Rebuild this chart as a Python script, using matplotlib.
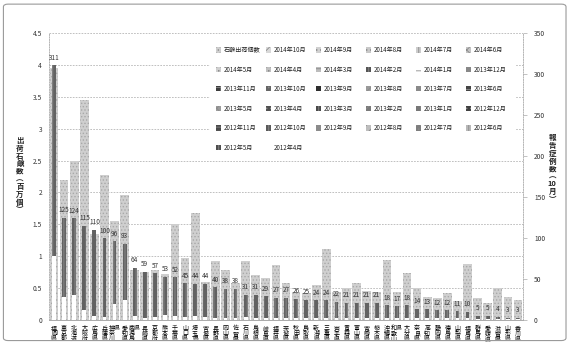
import numpy as np
import matplotlib.pyplot as plt
from matplotlib.patches import FancyBboxPatch, Rectangle

plt.rcParams['font.family'] = ['Noto Sans CJK JP', 'DejaVu Sans']
plt.rcParams['hatch.linewidth'] = 0.6

# prefectures, left to right
prefs = ['福岡県', '東京都', '北海道', '大阪府', '広島県', '兵庫県', '神奈川県', '愛知県',
         '鹿児島県', '長崎県', '京都府', '熊本県', '千葉県', '山口県', '埼玉県', '宮城県',
         '長野県', '岡山県', '佐賀県', '石川県', '島根県', '岐阜県', '福井県', '茨城県',
         '秋田県', '鳥取県', '新潟県', '三重県', '岩手県', '青森県', '富山県', '宮崎県',
         '栃木県', '沖縄県', '和歌山県', '大分県', '奈良県', '高知県', '静岡県', '徳島県',
         '山梨県', '福島県', '群馬県', '愛媛県', '滋賀県', '山形県', '香川県']

# soap shipments (millions)
shipments = [3.95, 2.20, 2.50, 3.45, 1.35, 2.27, 1.55, 1.96, 0.78, 0.75, 0.78, 0.72,
             1.50, 0.97, 1.68, 0.60, 0.92, 0.78, 0.58, 0.93, 0.70, 0.66, 0.86, 0.58,
             0.44, 0.42, 0.55, 1.11, 0.44, 0.50, 0.58, 0.45, 0.44, 0.94, 0.44, 0.73,
             0.50, 0.36, 0.35, 0.43, 0.30, 0.88, 0.35, 0.27, 0.50, 0.36, 0.32]

# reported cases as of October 2014
cases = [311, 125, 124, 115, 110, 100, 96, 93, 64, 59, 57, 53, 52, 45, 44, 44,
         40, 38, 38, 31, 31, 29, 27, 27, 26, 25, 24, 24, 22, 21, 21, 21, 21, 18,
         17, 18, 14, 13, 12, 12, 11, 10, 5, 5, 4, 3, 3]

# cases already reported by April 2012
cases_apr2012 = [78, 28, 30, 12, 5, 4, 20, 25, 5, 3, 4, 6, 5, 4, 5, 4, 3, 3, 2, 4,
                 3, 3, 3, 3, 3, 3, 3, 3, 3, 3, 3, 3, 3, 3, 3, 3, 2, 2, 2, 2, 2, 2,
                 1, 1, 1, 1, 1]

months = ['2014年10月', '2014年9月', '2014年8月', '2014年7月', '2014年6月', '2014年5月',
          '2014年4月', '2014年3月', '2014年2月', '2014年1月', '2013年12月', '2013年11月',
          '2013年10月', '2013年9月', '2013年8月', '2013年7月', '2013年6月', '2013年5月',
          '2013年4月', '2013年3月', '2013年2月', '2013年1月', '2012年12月', '2012年11月',
          '2012年10月', '2012年9月', '2012年8月', '2012年7月', '2012年6月', '2012年5月',
          '2012年4月']

# (face, hatch) per month for the legend swatches
month_style = {
    '2014年10月': ('#d8d8d8', '////'), '2014年9月': ('#d0d0d0', '....'),
    '2014年8月': ('#c8c8c8', '....'), '2014年7月': ('#cccccc', '||||'),
    '2014年6月': ('#c4c4c4', 'xxxx'), '2014年5月': ('#cfcfcf', '....'),
    '2014年4月': ('#c0c0c0', '....'), '2014年3月': ('#bcbcbc', '----'),
    '2014年2月': ('#555555', '||||'), '2014年1月': ('#ffffff', '--'),
    '2013年12月': ('#888888', '....'), '2013年11月': ('#3c3c3c', '++'),
    '2013年10月': ('#666666', '....'), '2013年9月': ('#2e2e2e', ''),
    '2013年8月': ('#9a9a9a', '////'), '2013年7月': ('#8a8a8a', '||||'),
    '2013年6月': ('#444444', '----'), '2013年5月': ('#9c9c9c', 'xxxx'),
    '2013年4月': ('#505050', '....'), '2013年3月': ('#4a4a4a', '||||'),
    '2013年2月': ('#7a7a7a', '////'), '2013年1月': ('#777777', '++'),
    '2012年12月': ('#404040', '....'), '2012年11月': ('#484848', '----'),
    '2012年10月': ('#5a5a5a', '||||'), '2012年9月': ('#8c8c8c', '....'),
    '2012年8月': ('#bdbdbd', '////'), '2012年7月': ('#7e7e7e', '....'),
    '2012年6月': ('#b8b8b8', '||||'), '2012年5月': ('#4e4e4e', '||||'),
    '2012年4月': ('#ffffff', ''),
}

W, H = 570, 344
x = np.arange(len(prefs))
tick_labels = []
for p in prefs:
    if len(p) == 4:
        tick_labels.append(p[0] + p[3] + '\n' + p[1] + '\u3000\n' + p[2] + '\u3000')
    else:
        tick_labels.append('\n'.join(p))

fig = plt.figure(figsize=(W / 100, H / 100), dpi=100)
frame = FancyBboxPatch((0.006, 0.01), 0.987, 0.978, boxstyle='round,pad=0,rounding_size=0.008',
                       transform=fig.transFigure, fc='none', ec='#9a9a9a', lw=0.8, zorder=10)
fig.patches.append(frame)
ax = fig.add_axes([49 / W, 24 / H, 474 / W, 287 / H])
ax2 = ax.twinx()

ax.bar(x, shipments, width=0.86, color='#cfcfcf', edgecolor='#a8a8a8',
       hatch='.....', linewidth=0, zorder=2)

ax2.bar(x, cases_apr2012, width=0.38, color='white', linewidth=0, zorder=3)
ax2.bar(x, np.subtract(cases, cases_apr2012), bottom=cases_apr2012, width=0.38,
        color='#626262', edgecolor='#8e8e8e', hatch='|||', linewidth=0, zorder=3)
for xi, c in zip(x, cases):
    ax2.annotate(str(c), (xi, c), xytext=(0, 2.5), textcoords='offset points',
                 ha='center', va='bottom', fontsize=4.6, color='#333333')

ax.set_xlim(-0.5, len(prefs) - 0.5)
ax.set_ylim(0, 4.5)
ax.set_yticks(np.arange(0, 4.51, 0.5))
ax.set_yticklabels(['0', '0.5', '1', '1.5', '2', '2.5', '3', '3.5', '4', '4.5'])
ax2.set_ylim(0, 350)
ax2.set_yticks(np.arange(0, 351, 50))
ax.set_xticks(x)
ax.set_xticklabels(tick_labels, fontsize=4.3, linespacing=1.0, va='top')
ax.tick_params(axis='x', length=0, pad=4)
ax.tick_params(axis='y', length=0, labelsize=4.8, labelcolor='#333333', pad=5)
ax2.tick_params(axis='y', length=3, width=0.5, color='#aaaaaa', labelsize=4.8,
                labelcolor='#333333', pad=5)
ax.yaxis.grid(True, linestyle=(0, (2, 1.5)), color='#b5b5b5', linewidth=0.6)
ax.set_axisbelow(True)
for a in (ax, ax2):
    for s in ('top', 'right', 'left'):
        a.spines[s].set_visible(False)
    a.spines['bottom'].set_color('#aaaaaa')
    a.spines['bottom'].set_linewidth(0.6)
for a, side in ((ax, 'left'), (ax2, 'right')):
    a.spines[side].set_visible(True)
    a.spines[side].set_linestyle((0, (1.5, 1.5)))
    a.spines[side].set_color('#aaaaaa')
    a.spines[side].set_linewidth(0.6)

fig.text(0.035, 0.49, '\n'.join('出荷石鹸数︵百万個︶'), ha='center', va='center',
         fontsize=5.4, fontweight='bold', linespacing=1.1, color='#222222')
fig.text(0.969, 0.51, '報\n告\n症\n例\n数\n︵\n10\n月\n︶', ha='center', va='center',
         fontsize=5.4, fontweight='bold', linespacing=1.1, color='#222222')

# legend laid out on a fixed grid, six entries per row
entries = [('石鹸出荷個数', ('#cfcfcf', '.....'))] + [(m, month_style[m]) for m in months]
fig.patches.append(Rectangle((210 / W, 1 - 158 / H), 306 / W, 118 / H,
                             transform=fig.transFigure, fc='white', ec='none', zorder=4))
for i, (name, (fc, h)) in enumerate(entries):
    px = 216 + 50 * (i % 6)
    py = 50 + 19.5 * (i // 6)
    fig.patches.append(Rectangle((px / W, 1 - (py + 2.5) / H), 5 / W, 5 / H,
                                 transform=fig.transFigure, fc=fc, ec='#8a8a8a', hatch=h,
                                 lw=0, zorder=5))
    fig.text((px + 8) / W, 1 - py / H, name, ha='left', va='center', fontsize=4.4,
             color='#222222', zorder=6)

fig.savefig('out.png', dpi=100)
